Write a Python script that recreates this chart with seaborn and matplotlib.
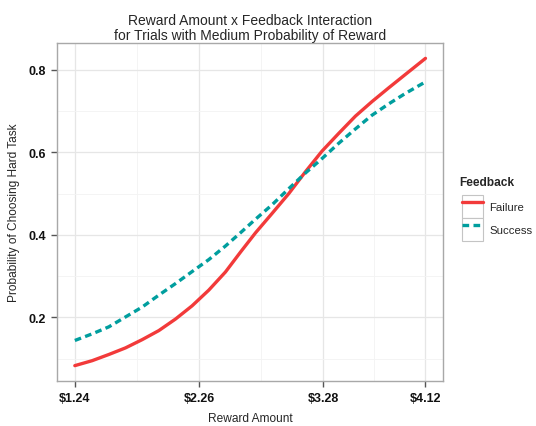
#!/usr/bin/env python3
"""Reward amount x feedback interaction plot (medium probability trials)."""

import matplotlib
matplotlib.use("Agg")
import matplotlib.pyplot as plt
from matplotlib.legend_handler import HandlerTuple
from matplotlib.patches import Rectangle
import pandas as pd
import seaborn as sns

# predicted probability curves
reward = [1.24, 1.382, 1.519, 1.656, 1.793, 1.93, 2.067, 2.203, 2.34, 2.477, 2.60,
          2.724, 2.86, 2.997, 3.134, 3.27, 3.407, 3.545, 3.68, 3.82, 3.955, 4.12]
p_failure = [0.083, 0.095, 0.110, 0.126, 0.146, 0.168, 0.196, 0.228, 0.266, 0.310, 0.358,
             0.405, 0.452, 0.500, 0.553, 0.603, 0.646, 0.688, 0.723, 0.757, 0.789, 0.828]
p_success = [0.144, 0.160, 0.177, 0.201, 0.225, 0.254, 0.282, 0.311, 0.340, 0.373, 0.405,
             0.438, 0.473, 0.512, 0.550, 0.585, 0.622, 0.657, 0.690, 0.718, 0.743, 0.771]

feedback_levels = ["Failure", "Success"]
x_ticks = [1.24, 2.26, 3.28, 4.12]
x_ticklabels = ["$1.24", "$2.26", "$3.28", "$4.12"]
y_ticks = [0.2, 0.4, 0.6, 0.8]

RED = "#F23A3A"
TEAL = "#009E9E"
DASH = (2.0, 1.3)


def main() -> None:
    sns.set_theme(style="white")
    plt.rcParams["font.family"] = ["Liberation Sans", "DejaVu Sans"]

    df = pd.DataFrame({
        "reward": reward * 2,
        "prob": p_failure + p_success,
        "Feedback": [feedback_levels[0]] * len(reward) + [feedback_levels[1]] * len(reward),
    })

    fig = plt.figure(figsize=(5.36, 4.27), dpi=100)
    ax = fig.add_axes([57.3 / 536, 1 - 382 / 427, (443 - 57.3) / 536, (382 - 44) / 427])

    sns.lineplot(data=df, x="reward", y="prob", hue="Feedback", style="Feedback",
                 palette={"Failure": RED, "Success": TEAL},
                 dashes={"Failure": "", "Success": DASH},
                 linewidth=2.4, ax=ax, legend=False)

    # ggplot-style 5% expansion
    xr = max(reward) - min(reward)
    ax.set_xlim(min(reward) - 0.05 * xr, max(reward) + 0.05 * xr)
    lo = min(p_failure + p_success)
    hi = max(p_failure + p_success)
    ax.set_ylim(lo - 0.05 * (hi - lo), hi + 0.05 * (hi - lo))

    ax.set_xticks(x_ticks)
    ax.set_xticklabels(x_ticklabels)
    ax.set_yticks(y_ticks)
    ax.set_yticklabels([f"{v:.1f}" for v in y_ticks])
    ax.set_xticks([(a + b) / 2 for a, b in zip(x_ticks[:-1], x_ticks[1:])], minor=True)
    ax.set_yticks([0.1, 0.3, 0.5, 0.7], minor=True)

    ax.grid(True, which="major", color="#E6E6E6", linewidth=0.9)
    ax.grid(True, which="minor", color="#F3F3F3", linewidth=0.6)
    ax.set_axisbelow(True)
    for sp in ax.spines.values():
        sp.set_color("#A8A8A8")
        sp.set_linewidth(1.0)

    ax.tick_params(which="major", length=4, width=1.0, color="#555555", direction="out",
                   labelsize=9, labelcolor="#111111", bottom=True, left=True, pad=4)
    ax.tick_params(which="minor", length=0)
    for lab in ax.get_xticklabels() + ax.get_yticklabels():
        lab.set_fontweight("bold")

    ax.set_xlabel("Reward Amount", fontsize=8.6, labelpad=6)
    ax.set_ylabel("Probability of Choosing Hard Task", fontsize=8.6, labelpad=6)
    ax.set_title("Reward Amount x Feedback Interaction\nfor Trials with Medium Probability of Reward",
                 fontsize=10, linespacing=1.05, pad=3)

    # legend with ggplot-like bordered key boxes
    def key_box():
        return Rectangle((0, 0), 1, 1, facecolor="white", edgecolor="#C4C4C4", linewidth=0.8)

    handles = [
        (key_box(), plt.Line2D([], [], color=RED, linewidth=2.4)),
        (key_box(), plt.Line2D([], [], color=TEAL, linewidth=2.4, dashes=DASH)),
    ]
    fig.legend(handles, feedback_levels,
               handler_map={tuple: HandlerTuple(ndivide=1, pad=0)},
               loc="upper left", bbox_to_anchor=(462 / 536, 1 - 196 / 427),
               frameon=False, fontsize=8.2,
               handlelength=1.8, handleheight=2.7, handletextpad=0.6,
               labelspacing=0.0, borderpad=0, borderaxespad=0)
    fig.text(459 / 536, 1 - 183 / 427, "Feedback", fontsize=8.6, fontweight="bold",
             ha="left", va="center")

    fig.savefig("out.png", dpi=100)
    plt.close(fig)


if __name__ == "__main__":
    main()
